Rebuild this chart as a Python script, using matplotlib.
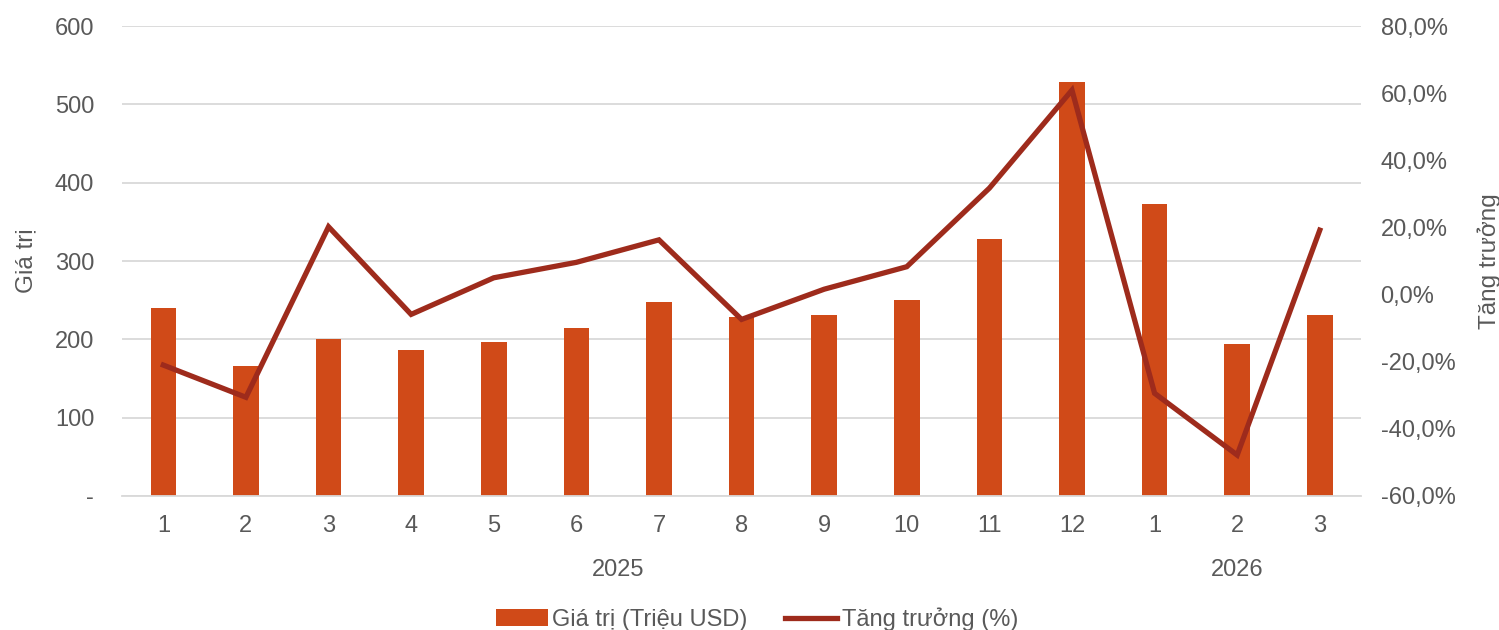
import matplotlib.pyplot as plt
from matplotlib.ticker import FuncFormatter

plt.rcParams['font.family'] = ['Liberation Sans', 'DejaVu Sans']

# Monthly export value and year-on-year growth
months = ['1', '2', '3', '4', '5', '6', '7', '8', '9', '10', '11', '12', '1', '2', '3']
years = ['2025', '2026']
months_per_year = [12, 3]
value_musd = [240, 166, 200, 187, 196, 214, 248, 229, 231, 250, 328, 528, 373, 194, 231]
growth_pct = [-21.0, -30.6, 20.2, -5.9, 5.0, 9.6, 16.3, -7.4, 1.6, 8.3, 31.7, 60.9, -29.4, -47.8, 19.2]

bar_color = '#D04A18'
line_color = '#9E2B1C'
text_color = '#595959'
grid_color = '#D9D9D9'
fs = 17

fig = plt.figure(figsize=(14.99, 6.30), dpi=100)
ax = fig.add_axes([0.0814, 0.2127, 0.8266, 0.746])
ax2 = ax.twinx()

x = list(range(len(months)))
bars = ax.bar(x, value_musd, width=0.31, color=bar_color, zorder=2,
              label='Giá trị (Triệu USD)')
line, = ax2.plot(x, growth_pct, color=line_color, linewidth=3.8,
                 solid_joinstyle='miter', zorder=3, label='Tăng trưởng (%)')

ax.set_xlim(-0.5, len(months) - 0.5)
ax.set_ylim(0, 600)
ax.set_yticks(range(0, 601, 100))
ax.yaxis.set_major_formatter(FuncFormatter(lambda v, p: '-' if v == 0 else f'{int(v)}'))
ax2.set_ylim(-60, 80)
ax2.set_yticks(range(-60, 81, 20))
ax2.yaxis.set_major_formatter(FuncFormatter(lambda v, p: f'{v:.1f}%'.replace('.', ',')))

ax.grid(axis='y', color=grid_color, linewidth=1.3, zorder=0)
ax.set_axisbelow(True)
for a in (ax, ax2):
    for s in a.spines.values():
        s.set_visible(False)
ax.spines['bottom'].set_visible(True)
ax.spines['bottom'].set_color(grid_color)
ax.spines['bottom'].set_linewidth(1.3)

ax.set_xticks(x)
ax.set_xticklabels(months)
ax.tick_params(axis='x', length=0, pad=14, labelsize=fs, colors=text_color)
ax.tick_params(axis='y', length=0, pad=20, labelsize=fs, colors=text_color)
ax2.tick_params(axis='y', length=0, pad=14, labelsize=fs, colors=text_color)

ax.set_ylabel('Giá trị', fontsize=fs + 0.5, color=text_color)
ax2.set_ylabel('Tăng trưởng', fontsize=fs + 0.5, color=text_color)
ax.yaxis.set_label_coords(-0.068, 0.5)
ax2.yaxis.set_label_coords(1.094, 0.5)

# Year labels under each month group
start = 0
for yr, n in zip(years, months_per_year):
    center = start + (n - 1) / 2
    ax.text(center, -0.157, yr, transform=ax.get_xaxis_transform(),
            ha='center', va='center', fontsize=fs, color=text_color)
    start += n

fig.legend(handles=[bars, line], loc='lower center', bbox_to_anchor=(0.505, -0.035),
           ncol=2, frameon=False, fontsize=fs, labelcolor=text_color,
           handlelength=2.2, handletextpad=0.2, columnspacing=1.6)

fig.savefig('out.png', dpi=100)
